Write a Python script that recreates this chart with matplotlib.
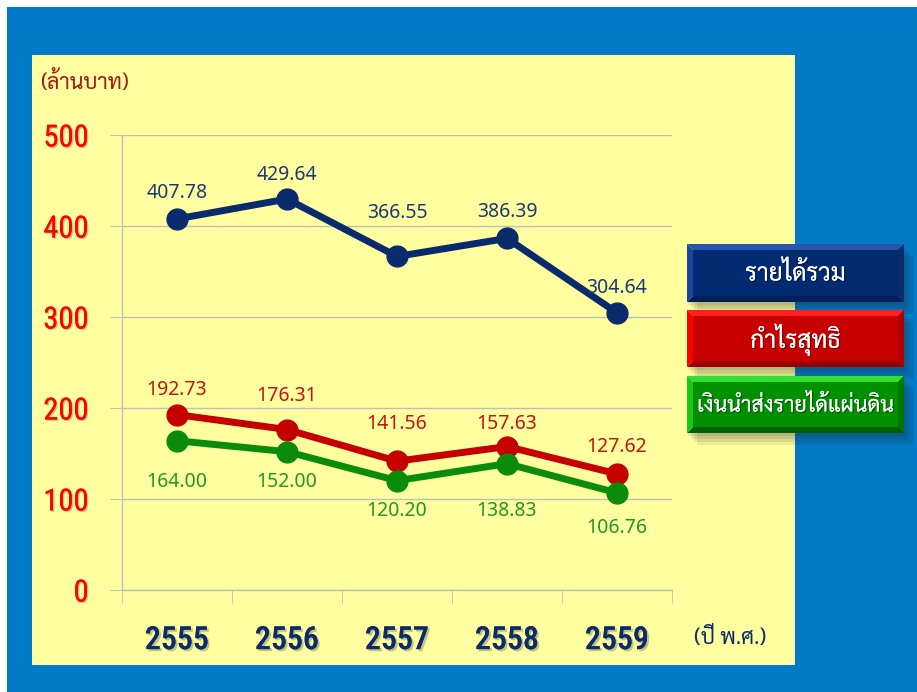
import matplotlib
matplotlib.use("Agg")
import matplotlib.pyplot as plt
import matplotlib.patheffects as pe
from matplotlib.patches import Rectangle, Polygon

# ข้อมูล (ล้านบาท)
years = ["2555", "2556", "2557", "2558", "2559"]
revenue = [407.78, 429.64, 366.55, 386.39, 304.64]      # รายได้รวม
profit = [192.73, 176.31, 141.56, 157.63, 127.62]       # กำไรสุทธิ
remit = [164.00, 152.00, 120.20, 138.83, 106.76]        # เงินนำส่งรายได้แผ่นดิน
series_names = ["รายได้รวม", "กำไรสุทธิ", "เงินนำส่งรายได้แผ่นดิน"]

# ระยะป้ายตัวเลขจากจุด (points, + = ด้านบน)
rev_off = [19, 17, 31, 19, 18]
pro_off = [18, 24, 27, 16, 19]
rem_off = [-30, -22, -22, -34, -25]

THAI = ["Sarabun", "Noto Sans Thai", "DejaVu Sans"]
COND = ["Roboto Condensed", "Fira Sans Condensed", "Cabin Condensed", "DejaVu Sans"]
NUM = ["Noto Sans", "DejaVu Sans"]

W, H = 917, 692
fig = plt.figure(figsize=(W / 100, H / 100), dpi=100, facecolor="white")

# พื้นหลังเป็นพิกัดพิกเซล
bg = fig.add_axes([0, 0, 1, 1], zorder=0)
bg.set_xlim(0, W)
bg.set_ylim(H, 0)
bg.axis("off")
bg.add_patch(Rectangle((7, 7), W, H, color="#027ac7", lw=0))
bg.add_patch(Rectangle((32, 55), 763, 610, color="#ffff9f", lw=0))


def bevel_box(x0, y0, x1, y1, main, top, left, right, bottom, label, size):
    b = 6
    # เงา
    for i in range(4):
        d = 3 + i * 3
        bg.add_patch(Rectangle((x0 + d - 2, y0 + d), x1 - x0, y1 - y0,
                               color="#202020", alpha=0.09, lw=0))
    bg.add_patch(Polygon([(x0, y0), (x1, y0), (x1 - b, y0 + b), (x0 + b, y0 + b)], color=top, lw=0))
    bg.add_patch(Polygon([(x0, y1), (x1, y1), (x1 - b, y1 - b), (x0 + b, y1 - b)], color=bottom, lw=0))
    bg.add_patch(Polygon([(x0, y0), (x0 + b, y0 + b), (x0 + b, y1 - b), (x0, y1)], color=left, lw=0))
    bg.add_patch(Polygon([(x1, y0), (x1 - b, y0 + b), (x1 - b, y1 - b), (x1, y1)], color=right, lw=0))
    bg.add_patch(Rectangle((x0 + b, y0 + b), x1 - x0 - 2 * b, y1 - y0 - 2 * b, color=main, lw=0))
    bg.text((x0 + x1) / 2, (y0 + y1) / 2 + 1, label, color="white", fontsize=size,
            family=THAI, ha="center", va="center",
            path_effects=[pe.withSimplePatchShadow(offset=(1, -1), shadow_rgbFace="black", alpha=0.35),
                          pe.Normal()])


bevel_box(687, 244, 904, 302, "#032b72", "#2a55ad", "#1c45a0", "#0b2c6c", "#00205a", series_names[0], 17.5)
bevel_box(687, 310, 904, 367, "#c80000", "#ff2020", "#ff0000", "#b00000", "#9a0000", series_names[1], 17.5)
bevel_box(687, 376, 904, 433, "#009000", "#30e030", "#18c818", "#007800", "#006000", series_names[2], 15.5)

bg.text(40, 83, "(ล้านบาท)", color="#a8141a", fontsize=15.5, family=THAI, va="center", ha="left")
bg.text(694, 638, "(ปี พ.ศ.)", color="#0d2a6b", fontsize=15.5, family=THAI, va="center", ha="left")

# กราฟหลัก
ax = fig.add_axes([122 / W, 1 - 590 / H, 550 / W, 455 / H], zorder=2)
ax.set_facecolor("none")
x = list(range(len(years)))

ax.plot(x, revenue, "-o", color="#0a2a6e", lw=5, ms=15, zorder=3)
ax.plot(x, profit, "-o", color="#c40000", lw=5, ms=15, zorder=4)
ax.plot(x, remit, "-o", color="#0a8c0a", lw=5, ms=15, zorder=5)

for vals, offs, col in [(revenue, rev_off, "#1c3876"), (profit, pro_off, "#c41414"),
                        (remit, rem_off, "#22962a")]:
    for xi, v, o in zip(x, vals, offs):
        ax.annotate(f"{v:.2f}", (xi, v), xytext=(0, o), textcoords="offset points",
                    ha="center", va="center", color=col, fontsize=14, family=NUM, zorder=6)

ax.set_xlim(-0.5, len(years) - 0.5)
ax.set_ylim(0, 500)
ax.set_yticks(range(0, 501, 100))
ax.set_xticks(x)
ax.set_xticklabels(years)
ax.set_xticks([i - 0.5 for i in range(len(years) + 1)], minor=True)

ax.grid(axis="y", color="#bdbdbd", lw=1)
ax.set_axisbelow(True)
for s in ["top", "right"]:
    ax.spines[s].set_visible(False)
for s in ["left", "bottom"]:
    ax.spines[s].set_color("#bdbdbd")
    ax.spines[s].set_linewidth(1)

ax.tick_params(axis="y", length=9, color="#bdbdbd", pad=15, labelsize=22, labelcolor="#ff0000")
ax.tick_params(axis="x", which="major", length=0, pad=26, labelsize=23, labelcolor="#0d2a6b")
ax.tick_params(axis="x", which="minor", length=9, color="#bdbdbd")

for lab in ax.get_yticklabels():
    lab.set_family(COND)
    lab.set_path_effects([pe.withSimplePatchShadow(offset=(1, -1), shadow_rgbFace="#7a3030", alpha=0.3),
                          pe.Normal()])
for lab in ax.get_xticklabels():
    lab.set_family(COND)
    lab.set_fontweight("medium")
    lab.set_path_effects([pe.withSimplePatchShadow(offset=(1.5, -1.5), shadow_rgbFace="#505050", alpha=0.35),
                          pe.Normal()])

fig.savefig("out.png", dpi=100, facecolor="white")
